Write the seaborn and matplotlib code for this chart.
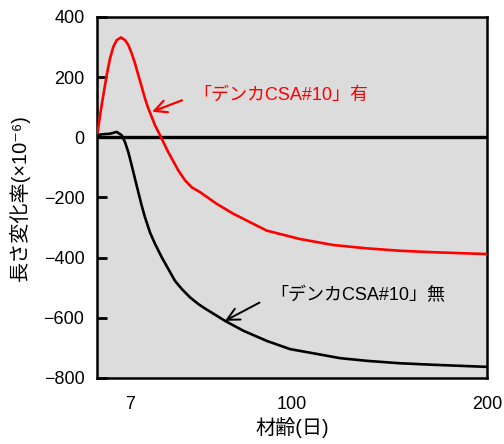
import numpy as np
import pandas as pd
import matplotlib
matplotlib.use("Agg")
import matplotlib.pyplot as plt
import seaborn as sns

# ---- data ----
days_with = [0, 0.64, 1.34, 2.06, 2.76, 3.46, 4.18, 5.09, 5.94, 6.64, 7.98, 9.88,
             11.78, 13.74, 15.64, 17.54, 19.5, 21.4, 24.3, 26.2, 29.1, 34.8, 38.7,
             42.5, 47.3, 56.9, 66.5, 76.1, 85.7, 104.3, 121.4, 138.5, 155.5, 172.5,
             200]
vals_with = [0, 73, 140, 207, 262, 301, 323, 332, 323, 307, 279, 246,
             207, 168, 129, 96, 68, 40, 7, -16, -50, -110, -143,
             -166, -182, -221, -254, -282, -310, -338, -358, -369, -377, -382,
             -388]

days_without = [0, 0.4, 1.0, 2.76, 4.18, 5.24, 5.94, 6.64, 7.98, 9.88, 11.78, 13.74,
                15.64, 18.5, 21.4, 25.3, 29.1, 32.9, 36.8, 41.6, 46.3, 50.2, 61.7,
                72.3, 85.9, 99.2, 113, 124.8, 138.6, 155.5, 172.4, 200]
vals_without = [0, 8, 10, 12, 18, 7, -16, -49, -93, -138, -182, -227,
                -266, -316, -354, -399, -438, -477, -504, -532, -554, -569, -610,
                -643, -677, -704, -720, -734, -743, -751, -756, -763]

x_ticks = [7, 100, 200]
y_ticks = [400, 200, 0, -200, -400, -600, -800]
label_with = "「デンカCSA#10」有"
label_without = "「デンカCSA#10」無"

sns.set_style("white")
plt.rcParams['font.family'] = ['Liberation Sans', 'Noto Sans CJK JP', 'DejaVu Sans']
plt.rcParams['text.color'] = 'black'
plt.rcParams['axes.labelcolor'] = 'black'
plt.rcParams['xtick.color'] = 'black'
plt.rcParams['ytick.color'] = 'black'

fig = plt.figure(figsize=(5.04, 4.44), dpi=100)
ax = fig.add_axes([97/504, 1-378/444, (487-97)/504, (378-17)/444])
ax.set_facecolor('#dcdcdc')

# piecewise axis scale (first week expanded as in the original)
nodes_d = [0, 7, 100, 200]
nodes_p = [0, 33, 194.5, 390]
fwd = lambda x: np.interp(x, nodes_d, nodes_p)
inv = lambda p: np.interp(p, nodes_p, nodes_d)
ax.set_xscale('function', functions=(fwd, inv))

ax.axhline(0, color='black', lw=2.4, zorder=2)

df_w = pd.DataFrame({'day': days_with, 'val': vals_with})
df_wo = pd.DataFrame({'day': days_without, 'val': vals_without})
sns.lineplot(data=df_w, x='day', y='val', ax=ax, color='#ff0000', lw=1.9,
             estimator=None, zorder=3)
sns.lineplot(data=df_wo, x='day', y='val', ax=ax, color='black', lw=1.9,
             estimator=None, zorder=3)

ax.set_xlim(0, 200)
ax.set_ylim(-800, 400)
ax.set_xticks(x_ticks)
ax.set_xticklabels([str(t) for t in x_ticks])
ax.set_yticks(y_ticks)
ax.set_yticklabels([str(t).replace('-', '\u2212') for t in y_ticks])
ax.tick_params(axis='x', length=0, pad=13, labelsize=13, labelcolor='black')
ax.tick_params(axis='y', direction='in', length=7, width=2, pad=9, labelsize=13,
               left=True, color='black', labelcolor='black')
for s in ax.spines.values():
    s.set_linewidth(1.8)
    s.set_color('black')

ax.set_xlabel('材齢(日)', fontsize=14.5, labelpad=3, color='black')
ax.set_ylabel('長さ変化率(×10⁻⁶)', fontsize=14.5, labelpad=10, color='black')

ax.annotate(label_with, xy=(19.7, 85), xytext=(43.3, 140), color='#ff0000',
            fontsize=13, ha='left', va='center',
            arrowprops=dict(arrowstyle='->', color='#ff0000', lw=1.6,
                            mutation_scale=22, shrinkA=6, shrinkB=0,
                            relpos=(0, 0.45)))
ax.annotate(label_without, xy=(61.7, -610), xytext=(87.7, -525), color='black',
            fontsize=13, ha='left', va='center',
            arrowprops=dict(arrowstyle='->', color='black', lw=1.4,
                            mutation_scale=22, shrinkA=6, shrinkB=0,
                            relpos=(0, 0.4)))

fig.savefig('out.png', dpi=100)
